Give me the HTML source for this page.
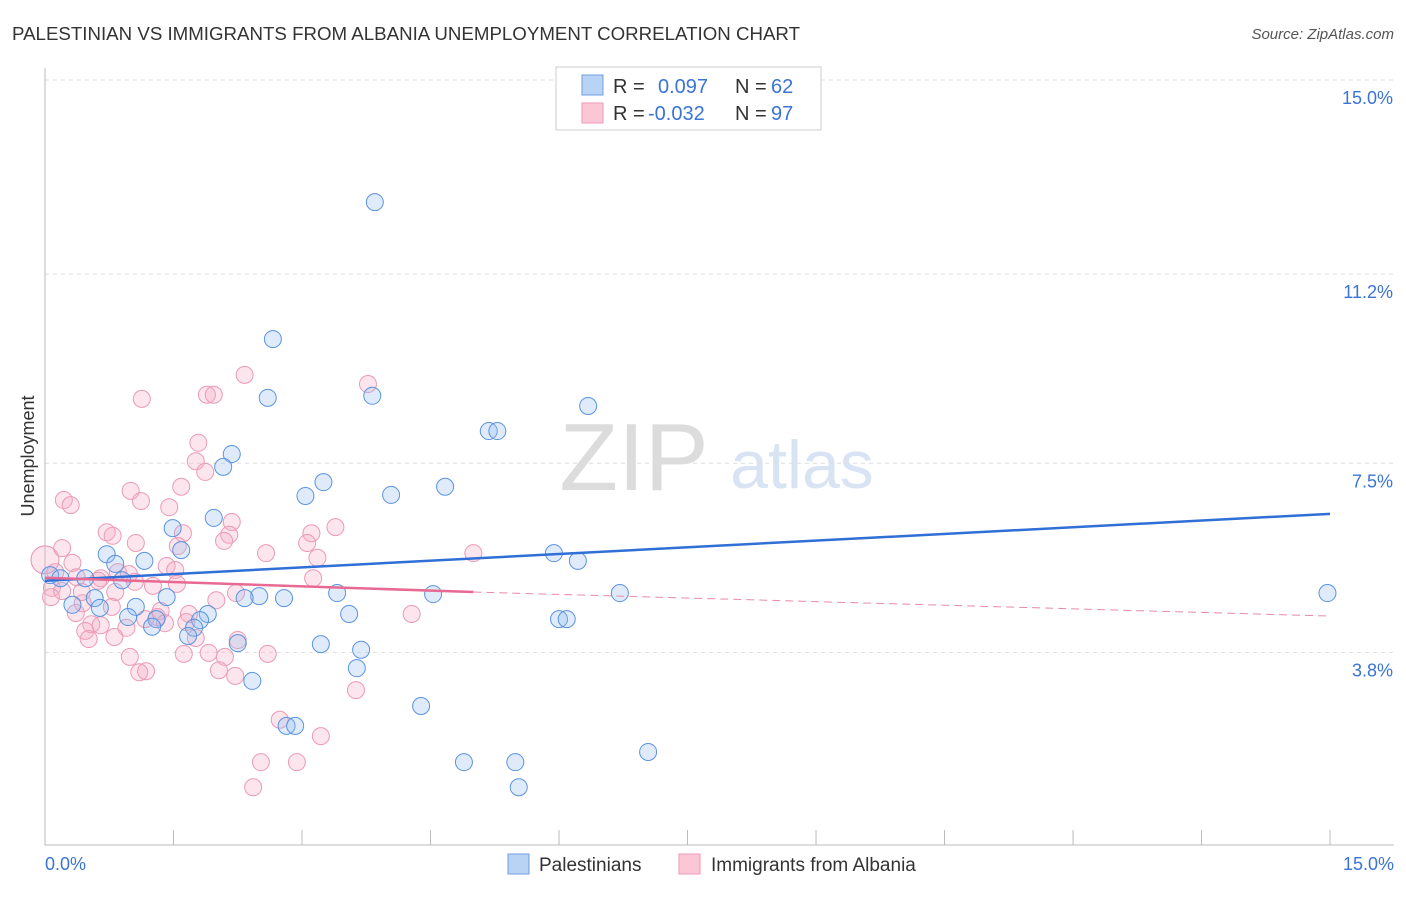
<!DOCTYPE html>
<html><head><meta charset="utf-8"><style>
body{margin:0;background:#fff;font-family:"Liberation Sans",sans-serif;}
svg text{font-family:"Liberation Sans",sans-serif;}
</style></head><body>
<svg id="chart" width="1406" height="892" xmlns="http://www.w3.org/2000/svg">
<text x="12" y="40" font-size="18" fill="#333" textLength="788" lengthAdjust="spacingAndGlyphs">PALESTINIAN VS IMMIGRANTS FROM ALBANIA UNEMPLOYMENT CORRELATION CHART</text>
<text x="1394" y="39" font-size="15" fill="#555" font-style="italic" text-anchor="end">Source: ZipAtlas.com</text>
<text x="0" y="0" transform="translate(34,456) rotate(-90)" font-size="18" fill="#333" text-anchor="middle">Unemployment</text>
<g><text x="634" y="490" font-size="96" fill="#dcdcdc" font-family="Liberation Serif" text-anchor="middle">ZIP</text><text x="802" y="488" font-size="68" fill="#d8e4f3" text-anchor="middle">atlas</text></g>
<g id="grid"></g><g id="axes"></g><g id="marks"></g>
<g>
<rect x="556" y="67" width="265" height="63" fill="#fff" stroke="#ccc"/>
<rect x="582" y="75" width="21" height="20" fill="#b9d3f5" stroke="#6d9fe0"/>
<rect x="582" y="103" width="21" height="20" fill="#fbc6d6" stroke="#ec99b5"/>
<text x="613" y="93" font-size="20" fill="#333">R =</text>
<text x="658" y="93" font-size="20" fill="#3a74d6">0.097</text>
<text x="735" y="93" font-size="20" fill="#333">N =</text>
<text x="771" y="93" font-size="20" fill="#3a74d6">62</text>
<text x="613" y="120" font-size="20" fill="#333">R =</text>
<text x="648" y="120" font-size="20" fill="#3a74d6">-0.032</text>
<text x="735" y="120" font-size="20" fill="#333">N =</text>
<text x="771" y="120" font-size="20" fill="#3a74d6">97</text>
</g>
<g>
<rect x="508" y="854" width="21" height="20" fill="#b9d3f5" stroke="#6d9fe0"/>
<text x="539" y="871" font-size="19" fill="#333">Palestinians</text>
<rect x="679" y="854" width="21" height="20" fill="#fbc6d6" stroke="#ec99b5"/>
<text x="711" y="871" font-size="19" fill="#333">Immigrants from Albania</text>
</g>
</svg>
<script>
const yTicks=[15.0,11.2,7.5,3.8];
const yTickLabels=["15.0%","11.2%","7.5%","3.8%"];
const xTickLabels=["0.0%","15.0%"];
const blueX=[3.85,2.66,2.60,3.82,6.34,5.18,5.28,2.18,2.08,3.25,3.04,4.04,4.67,1.97,1.49,1.59,0.72,1.16,5.94,6.22,0.82,0.06,0.18,0.47,0.90,3.41,2.50,2.79,4.53,6.71,14.97,1.42,2.33,0.58,0.32,0.64,1.06,0.97,1.90,1.81,1.30,3.55,6.00,6.09,1.25,1.74,1.67,2.25,3.22,3.69,3.64,2.42,4.39,2.82,2.92,7.04,4.89,5.49,5.53,8.46];
const blueY=[12.61,9.93,8.78,8.82,8.62,8.13,8.13,7.68,7.43,7.13,6.86,6.88,7.04,6.43,6.23,5.80,5.72,5.59,5.74,5.59,5.53,5.31,5.25,5.25,5.21,4.96,4.90,4.86,4.94,4.96,4.96,4.88,4.86,4.86,4.73,4.67,4.69,4.49,4.55,4.43,4.45,4.55,4.45,4.45,4.30,4.28,4.12,3.98,3.96,3.85,3.49,3.24,2.75,2.36,2.36,1.85,1.65,1.65,1.16,14.90];
const pinkX=[1.13,2.33,3.77,1.89,1.97,1.79,1.76,1.87,1.59,1.00,0.22,0.30,1.12,1.45,2.18,0.72,1.61,0.79,2.15,3.39,3.11,1.06,1.55,3.06,2.09,0.20,5.00,2.58,3.18,0.32,1.42,0.85,1.52,0.98,0.37,0.65,0.62,1.05,3.13,0.08,0.20,0.07,0.82,1.26,1.54,2.23,2.00,0.44,0.78,1.35,1.68,0.36,1.31,1.17,1.65,1.40,4.28,0.54,0.65,0.47,0.95,0.51,0.81,1.76,2.25,1.62,1.91,0.99,2.60,2.10,2.03,1.10,1.18,2.22,3.63,2.74,3.22,2.52,2.94,2.43,0.43,0.12];
const pinkY=[8.76,9.23,9.05,8.84,8.84,7.90,7.54,7.33,7.04,6.96,6.78,6.68,6.76,6.64,6.35,6.15,6.13,6.08,6.10,6.25,6.13,5.94,5.88,5.94,5.98,5.84,5.74,5.74,5.65,5.55,5.49,5.37,5.41,5.33,5.27,5.25,5.20,5.18,5.25,5.06,5.00,4.88,4.98,5.10,5.14,4.96,4.82,4.76,4.69,4.61,4.55,4.57,4.49,4.45,4.39,4.37,4.55,4.35,4.33,4.22,4.28,4.06,4.10,4.08,4.04,3.77,3.79,3.71,3.77,3.71,3.45,3.41,3.43,3.34,3.06,2.48,2.16,1.65,1.65,1.16,4.98,5.37];
const blueTrend=[5.20,6.51];
const pinkTrend=[5.26,4.98,4.51];
const pinkSolidEnd=5.0;

const NS="http://www.w3.org/2000/svg";
function sx(v){return 45+v*85.67;}
function sy(v){return 80+(15-v)*51.1;}
function mk(tag,attrs,parent){const e=document.createElementNS(NS,tag);for(const k in attrs)e.setAttribute(k,attrs[k]);parent.appendChild(e);return e;}
const grid=document.getElementById('grid'),axes=document.getElementById('axes'),marks=document.getElementById('marks');
yTicks.forEach((t,i)=>{
 const l=mk('line',{x1:45,x2:1394,y1:sy(t),y2:sy(t),stroke:'#ddd','stroke-dasharray':'4,4'},grid);
 
 
 const tx=mk('text',{x:1393,y:sy(t)+24,'font-size':18,fill:'#3a74d6','text-anchor':'end'},axes);
 tx.textContent=yTickLabels[i];
 
 
});
const xa=mk('line',{x1:45,x2:1394,y1:845,y2:845,stroke:'#bbb'},axes);


const ya=mk('line',{x1:45,x2:45,y1:68,y2:845,stroke:'#bbb'},axes);


for(let i=1;i<=10;i++){
 const t=mk('line',{x1:sx(i*1.5),x2:sx(i*1.5),y1:830,y2:845,stroke:'#bbb'},axes);
 
 
}
[[0,'start',45],[1,'end',1394]].forEach(([i,a,x])=>{
 const t=mk('text',{x:x,y:870,'font-size':18,fill:'#3a74d6','text-anchor':a},axes);
 t.textContent=xTickLabels[i];
 
 
});
const big=mk('circle',{cx:sx(0),cy:sy(5.61),r:14,fill:'rgba(245,170,195,0.3)',stroke:'#e990b0','stroke-width':1},marks);


pinkX.forEach((x,i)=>{
 const c=mk('circle',{cx:sx(x),cy:sy(pinkY[i]),r:8.5,fill:'rgba(245,170,195,0.3)',stroke:'#eb9ab6','stroke-width':1},marks);
 
 
});
blueX.forEach((x,i)=>{
 const c=mk('circle',{cx:sx(x),cy:sy(blueY[i]),r:8.5,fill:'rgba(150,190,240,0.3)',stroke:'#5b93e0','stroke-width':1},marks);
 
 
});
const bt=mk('line',{x1:sx(0),y1:sy(blueTrend[0]),x2:sx(15),y2:sy(blueTrend[1]),stroke:'#2f6fd6','stroke-width':2.5},marks);


const pt=mk('line',{x1:sx(0),y1:sy(pinkTrend[0]),x2:sx(pinkSolidEnd),y2:sy(pinkTrend[1]),stroke:'#e86a92','stroke-width':2.5},marks);


const pd=mk('line',{x1:sx(pinkSolidEnd),y1:sy(pinkTrend[1]),x2:sx(15),y2:sy(pinkTrend[2]),stroke:'#e88aa8','stroke-width':1,'stroke-dasharray':'8,5'},marks);


</script>
</body></html>
